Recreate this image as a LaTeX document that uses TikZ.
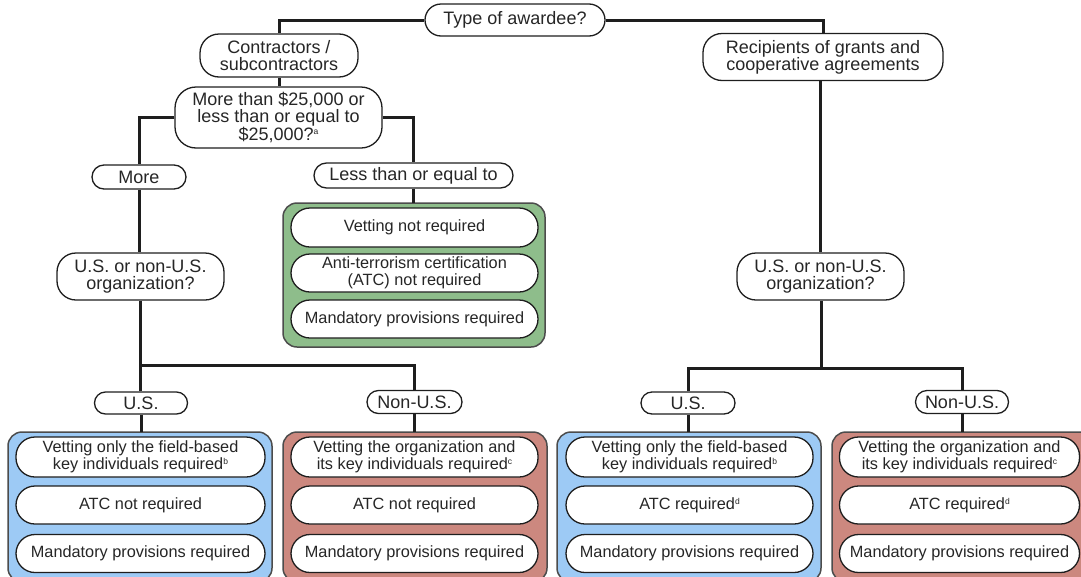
\documentclass[tikz,border=0pt]{standalone}
\usepackage{fontspec}
\setmainfont{Liberation Sans}
\definecolor{linec}{HTML}{1E1E1E}
\definecolor{txt}{HTML}{262626}
\definecolor{bluef}{HTML}{9DCAF5}
\definecolor{redf}{HTML}{CC887F}
\definecolor{greenf}{HTML}{8EBD8B}
\newcommand{\sups}[1]{\raisebox{0.6ex}{\fontsize{8.5}{8.5}\selectfont #1}}
\begin{document}
\begin{tikzpicture}[x=1pt,y=-1pt,
  base/.style={draw=linec, line width=1.3pt, fill=white, text=txt, align=center, inner sep=0pt,
     font=\fontsize{16.3}{17}\selectfont},
  big/.style={font=\fontsize{18}{17}\selectfont},
  dec/.style={base, big, rounded corners=19pt},
  pill/.style={base, rounded corners=#1},
  conn/.style={draw=linec, line width=3pt},
  grp/.style={draw=black!70, line width=1.5pt, rounded corners=14pt}]
\useasboundingbox (0,0) rectangle (1081,576);

% group boxes
\draw[grp, fill=greenf] (283,203) rectangle (545,347);
\draw[grp, fill=bluef] (8,432) rectangle (272,582);
\draw[grp, fill=redf] (283,432) rectangle (547,582);
\draw[grp, fill=bluef] (557,432) rectangle (821,582);
\draw[grp, fill=redf] (832,432) rectangle (1096,582);

% connector coordinates
\coordinate (jl) at (140,365);
\coordinate (jr) at (821,368);

% decision nodes
\node[pill=16pt, big, minimum width=180pt, minimum height=32pt] (top) at (515,20) {Type of awardee?};
\node[dec, minimum width=158pt, minimum height=43pt] (contr) at (279,55.5) {Contractors /\\subcontractors};
\node[dec, minimum width=240pt, minimum height=47pt] (recip) at (823,57) {Recipients of grants and\\cooperative agreements};
\node[dec, rounded corners=21pt, minimum width=207pt, minimum height=61pt] (q2) at (278.5,117.5) {More than \$25,000 or\\less than or equal to\\\$25,000?\sups{a}};
\node[pill=12.5pt, big, minimum width=199pt, minimum height=25pt] (less) at (413.5,175.5) {Less than or equal to};
\node[pill=12pt, big, minimum width=94pt, minimum height=24pt] (more) at (139,177) {More};
\node[dec, minimum width=167pt, minimum height=47pt] (org1) at (140.5,276.5) {U.S. or non-U.S.\\organization?};
\node[dec, minimum width=167pt, minimum height=47pt] (org2) at (820.5,276.5) {U.S. or non-U.S.\\organization?};
\node[pill=11pt, big, minimum width=93pt, minimum height=22pt] (us1) at (141,403) {U.S.};
\node[pill=11.5pt, big, minimum width=95pt, minimum height=23pt] (nus1) at (414.5,402) {Non-U.S.};
\node[pill=11pt, big, minimum width=94pt, minimum height=22pt] (us2) at (688,403) {U.S.};
\node[pill=11.5pt, big, minimum width=93pt, minimum height=23pt] (nus2) at (962,402) {Non-U.S.};

% green outcomes
\node[pill=19pt, minimum width=247pt, minimum height=39pt] (g1) at (414.5,227.5) {Vetting not required};
\node[pill=19pt, minimum width=247pt, minimum height=38pt] (g2) at (414.5,273) {Anti-terrorism certification\\(ATC) not required};
\node[pill=19pt, minimum width=247pt, minimum height=38pt] (g3) at (414.5,319) {Mandatory provisions required};

% box 1
\node[pill=19pt, minimum width=249pt, minimum height=40pt] (a1) at (140.5,457) {Vetting only the field-based\\key individuals required\sups{b}};
\node[pill=19pt, minimum width=249pt, minimum height=38pt] (a2) at (140.5,505) {ATC not required};
\node[pill=19pt, minimum width=249pt, minimum height=38pt] (a3) at (140.5,553.5) {Mandatory provisions required};
% box 2
\node[pill=19pt, minimum width=247pt, minimum height=40pt] (b1) at (414.5,457) {Vetting the organization and\\its key individuals required\sups{c}};
\node[pill=19pt, minimum width=247pt, minimum height=38pt] (b2) at (414.5,505) {ATC not required};
\node[pill=19pt, minimum width=247pt, minimum height=38pt] (b3) at (414.5,553.5) {Mandatory provisions required};
% box 3
\node[pill=19pt, minimum width=247pt, minimum height=40pt] (c1) at (689.5,457) {Vetting only the field-based\\key individuals required\sups{b}};
\node[pill=19pt, minimum width=247pt, minimum height=38pt] (c2) at (689.5,505) {ATC required\sups{d}};
\node[pill=19pt, minimum width=247pt, minimum height=38pt] (c3) at (689.5,553.5) {Mandatory provisions required};
% box 4
\node[pill=19pt, minimum width=240pt, minimum height=40pt] (d1) at (959.5,457) {Vetting the organization and\\its key individuals required\sups{c}};
\node[pill=19pt, minimum width=240pt, minimum height=38pt] (d2) at (959.5,505) {ATC required\sups{d}};
\node[pill=19pt, minimum width=240pt, minimum height=38pt] (d3) at (959.5,553.5) {Mandatory provisions required};

% connectors
\draw[conn] (top.west) -| (contr.north);
\draw[conn] (top.east) -| (recip.north);
\draw[conn] (contr.south) -- (q2.north -| contr.south);
\draw[conn] (q2.east) -| (less.north);
\draw[conn] (q2.west) -| (more.north);
\draw[conn] (less.south) -- (less.south |- 203,203);
\draw[conn] (more.south) -- (org1.north -| more.south);
\draw[conn] (org1.south -| jl) -- (jl);
\draw[conn] (us1.north -| jl) |- (nus1.north |- jl) -- (nus1.north);
\draw[conn] (us1.south) -- (us1.south |- 432,432);
\draw[conn] (nus1.south) -- (nus1.south |- 432,432);
\draw[conn] (recip.south -| org2.north) -- (org2.north);
\draw[conn] (org2.south -| jr) -- (jr);
\draw[conn] (us2.north) |- (jr) -| (nus2.north);
\draw[conn] (us2.south) -- (us2.south |- 432,432);
\draw[conn] (nus2.south) -- (nus2.south |- 432,432);
\end{tikzpicture}
\end{document}
